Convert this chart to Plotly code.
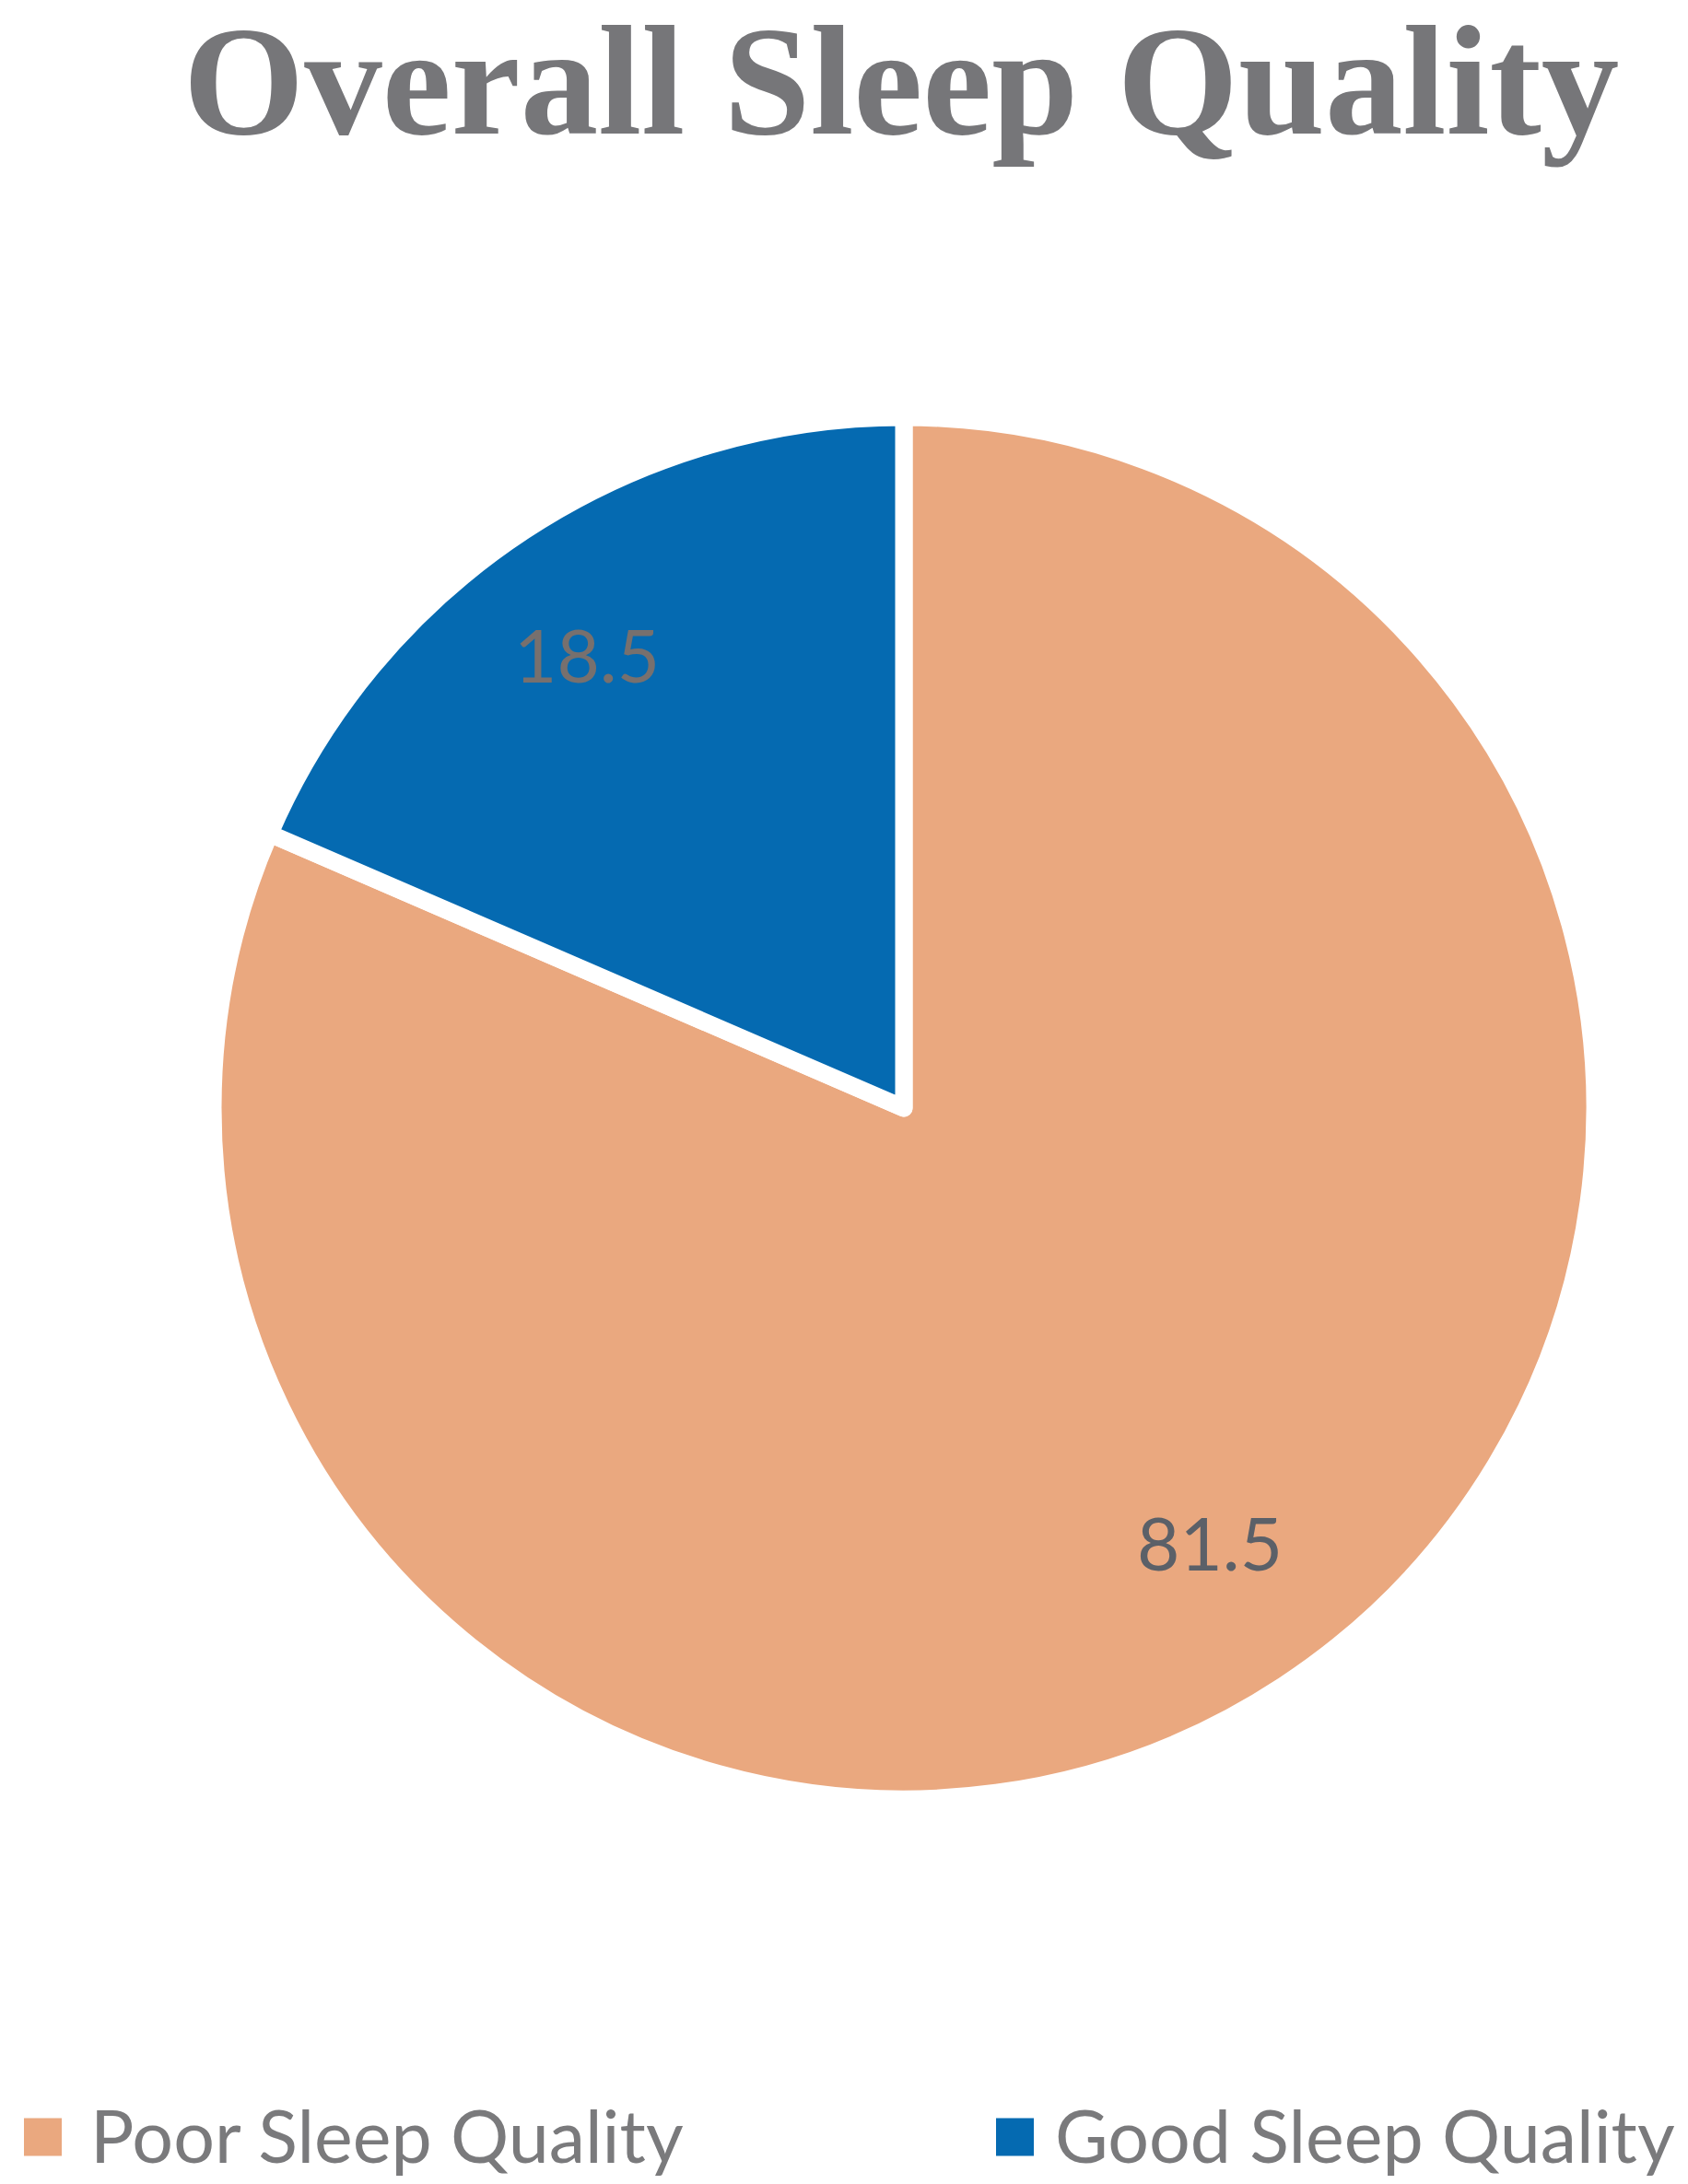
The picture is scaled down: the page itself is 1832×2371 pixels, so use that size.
import math
import plotly.graph_objects as go

# ---- data ----
categories = ["Poor Sleep Quality", "Good Sleep Quality"]
values = [81.5, 18.5]
colors = ["#EAA87F", "#056AB1"]
label_colors = ["#5B6068", "#77706E"]
title_text = "Overall Sleep Quality"

W, H = 1832, 2371

def px(x):
    return x / W

def py(y):
    return 1 - y / H

cx, cy, r = 973, 1195, 750

fig = go.Figure(go.Pie(
    labels=categories,
    values=values,
    sort=False,
    direction="clockwise",
    rotation=0,
    marker=dict(colors=colors, line=dict(color="white", width=19)),
    textinfo="none",
    domain=dict(x=[px(cx - r), px(cx + r)], y=[py(cy + r), py(cy - r)]),
    showlegend=False,
    hoverinfo="label+value",
))

# value labels placed near each slice's bisector
total = sum(values)
cum = 0.0
label_r = 0.785 * r
for v, col in zip(values, label_colors):
    mid = (cum + v / 2) / total * 2 * math.pi - math.radians(1.7)
    cum += v
    lx = cx + label_r * math.sin(mid)
    ly_ = cy - label_r * math.cos(mid)
    fig.add_annotation(x=px(lx), y=py(ly_), xref="paper", yref="paper",
                       xanchor="center", yanchor="middle", showarrow=False,
                       xshift=-6, yshift=11,
                       text=f"{v}", font=dict(family="Lato", size=80, color=col))

# custom legend (large square swatches like the original)
legend_items = [(18, 88), (1073, 1135)]
sq = 41
ly = 2312
for (sx, tx), name, col in zip(legend_items, categories, colors):
    fig.add_shape(type="rect", xref="paper", yref="paper",
                  x0=px(sx), x1=px(sx + sq), y0=py(ly + sq / 2), y1=py(ly - sq / 2),
                  fillcolor=col, line=dict(width=0))
    fig.add_annotation(x=px(tx), y=py(ly - 3), xref="paper", yref="paper",
                       xanchor="left", yanchor="middle", showarrow=False,
                       text=name, font=dict(family="Lato", size=79, color="#7A7A7C"))

fig.update_layout(
    width=W, height=H,
    margin=dict(l=0, r=0, t=0, b=0),
    paper_bgcolor="white",
    plot_bgcolor="white",
    title=dict(text=title_text, x=px(970), xanchor="center", y=0.992, yanchor="top",
               yref="container",
               font=dict(family="Liberation Serif", size=169, color="#767679", weight="bold")),
)

fig.write_html("out.html")
